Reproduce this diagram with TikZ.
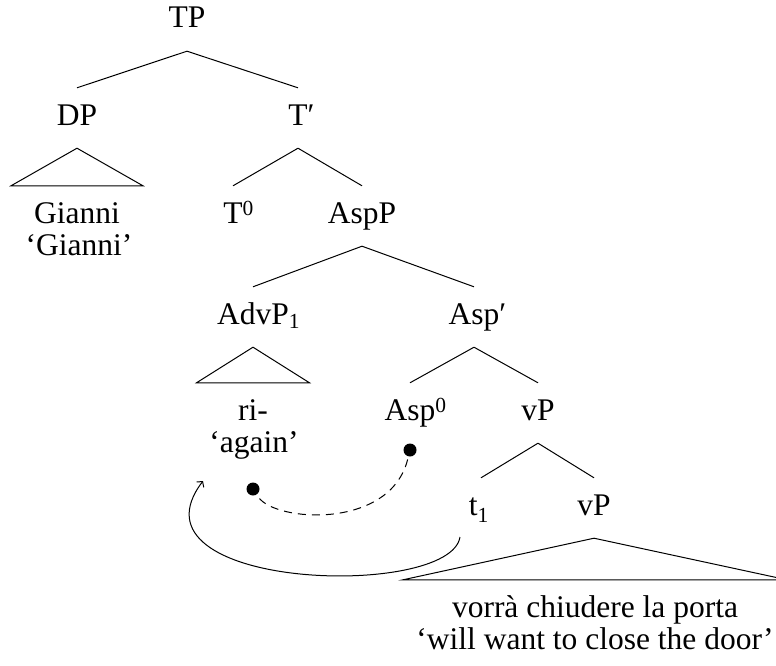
\documentclass[tikz,border=0pt]{standalone}
\usepackage{fontspec}
\setmainfont{Liberation Serif}
\usetikzlibrary{arrows.meta,calc}

% raised / lowered indices that do not widen the label they follow
\newcommand\upidx[1]{\rlap{\raisebox{8pt}{\fontsize{21.5}{21.5}\selectfont #1}}}
\newcommand\dnidx[2][-4pt]{\rlap{\raisebox{#1}{\fontsize{21.5}{21.5}\selectfont #2}}}

\begin{document}
\begin{tikzpicture}[x=1pt,y=-1pt,
  cat/.style={font=\fontsize{31.5}{33}\selectfont, inner sep=0pt,
              text height=37pt, text depth=23pt, anchor=base},
  branch/.style={line width=1pt},
  dot/.style={circle, fill=black, inner sep=0pt, minimum size=13pt},
  trace/.style={line width=1pt, dash pattern=on 8pt off 6pt},
  move/.style={line width=1pt, -{Straight Barb[length=4pt,width=9pt]}}
]
\clip (0,0) rectangle (776,666);

% labels
\node[cat] (TP)     at (187,28)  {TP};
\node[cat] (DP)     at (77,125)  {DP};
\node[cat] (Tbar)   at (298,125) {T\rlap{′}};
\node[cat] (gia)    at (77,223)  {Gianni};
\node[cat] (giagl)  at (79,255)  {‘Gianni’};
\node[cat] (Tzero)  at (233,223) {T\upidx{0}};
\node[cat] (AspP)   at (362,223) {AspP};
\node[cat] (AdvP)   at (253,324) {AdvP\dnidx{1}};
\node[cat] (Aspbar) at (474,324) {Asp\rlap{′}};
\node[cat] (ri)     at (253,420) {ri-};
\node[cat] (again)  at (254,452) {‘again’};
\node[cat] (Aspz)   at (410,420) {Asp\upidx{0}};
\node[cat] (vP)     at (538,420) {vP};
\node[cat] (tr)     at (481,515) {t\dnidx[-7pt]{1}\hphantom{1}};
\node[cat] (vPlow)  at (594,515) {vP};
\node[cat] (vorra)  at (595,617) {vorrà chiudere la porta};
\node[cat] (vgl)    at (595,649) {‘will want to close the door’};

% branches
\draw[branch] (TP.south) -- (DP.north);
\draw[branch] (TP.south) -- (Tbar.north);
\draw[branch] (Tbar.south) -- (Tzero.north);
\draw[branch] (Tbar.south) -- (AspP.north);
\draw[branch] (AspP.south) -- (AdvP.north);
\draw[branch] (AspP.south) -- (Aspbar.north);
\draw[branch] (Aspbar.south) -- (Aspz.north);
\draw[branch] (Aspbar.south) -- (vP.north);
\draw[branch] (vP.south) -- (tr.north);
\draw[branch] (vP.south) -- (vPlow.north);

% roofs over unanalysed constituents
\draw[branch] (DP.south) -- ($(gia.north)+(-66,0)$) -- ($(gia.north)+(66,0)$) -- cycle;
\draw[branch] (AdvP.south) -- ($(ri.north)+(-56.5,0)$) -- ($(ri.north)+(56.5,0)$) -- cycle;
\draw[branch] (vPlow.south) -- ($(vorra.north)+(-192,0)$) -- ($(vorra.north)+(192,0)$) -- cycle;

% dependency between the prefix and Asp0
\node[dot] (dA) at (410,450) {};
\node[dot] (dB) at (253,489) {};
\draw[trace, shorten <=3pt, shorten >=3pt] (dA) .. controls (390,530) and (275,522) .. (dB);

% movement of the adverbial
\coordinate (mvFrom) at (460,537);
\coordinate (mvTo)   at (203,481);
\draw[move] (mvFrom) .. controls (450,600) and (120,590) .. (mvTo);
\end{tikzpicture}
\end{document}
